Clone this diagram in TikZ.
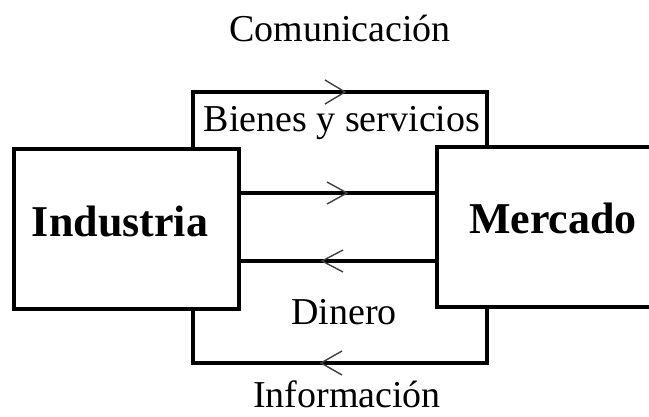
\documentclass[tikz,border=0pt]{standalone}
\usepackage{fontspec}
\setmainfont{Liberation Serif}
\usetikzlibrary{positioning}

\tikzset{
    box/.style={draw, line width=4pt, minimum width=225pt, minimum height=160pt, inner sep=0pt, font=\fontsize{44}{48}\selectfont\bfseries},
    flow/.style={line width=4pt, line cap=rect},
    chev/.style={line width=1.4pt, black!75},
    lbl/.style={anchor=base, inner sep=0pt, font=\fontsize{38}{42}\selectfont}
}

\begin{document}
\begin{tikzpicture}[x=1pt, y=1pt]
    \useasboundingbox (0,0) rectangle (649,417);

    \node[box] (ind) at (126.5,188) {};
    \node[box] (merc) at (549.5,190) {};
    \node[lbl, font=\fontsize{44}{48}\selectfont\bfseries] (indtxt) at (120,180) {Industria};
    \node[lbl, font=\fontsize{44}{48}\selectfont\bfseries] (merctxt) at (553,183) {Mercado};

    % top bracket: Comunicacion
    \coordinate (c1) at (193,325);
    \coordinate (c2) at (487,325);
    \draw[flow] (c1 |- ind.north) -- (c1) -- (c2) -- (c2 |- merc.north);
    \draw[chev] (325,337) -- (345,325) -- (325,313);

    % Bienes y servicios
    \draw[flow] (ind.east |- 0,224) -- (merc.west |- 0,224);
    \draw[chev] (327,235) -- (347,224) -- (327,213);

    % Dinero
    \draw[flow] (merc.west |- 0,156) -- (ind.east |- 0,156);
    \draw[chev] (343,167) -- (322,156) -- (343,145);

    % bottom bracket: Informacion
    \draw[flow] (c2 |- merc.south) -- (487,54) -- (193,54) -- (c1 |- ind.south);
    \draw[chev] (342,66) -- (321,54) -- (342,42);

    \node[lbl] (com) at (340,375) {Comunicación};
    \node[lbl] (bys) at (342,285) {Bienes y servicios};
    \node[lbl] (din) at (344,92) {Dinero};
    \node[lbl] (inf) at (347,9) {Información};
\end{tikzpicture}
\end{document}
